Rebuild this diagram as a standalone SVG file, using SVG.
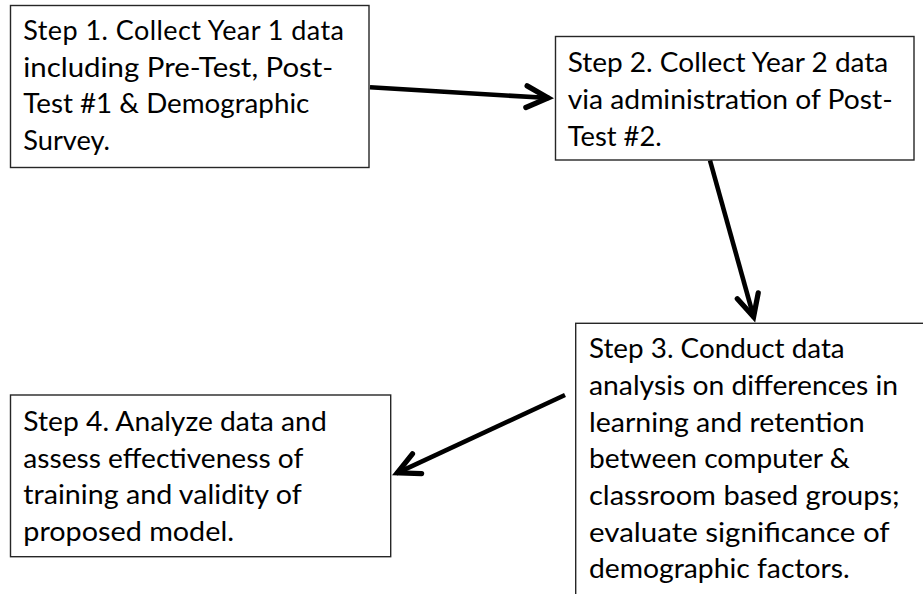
<svg xmlns="http://www.w3.org/2000/svg" width="923" height="594" viewBox="0 0 923 594">
<style>
.box{fill:#fff;stroke:#262626;stroke-width:1.4}
.t{font-family:Lato,"Noto Sans","Liberation Sans",sans-serif;font-size:27px;fill:#000}
.conn{stroke:#000;stroke-width:4.6;fill:none;stroke-linecap:butt}
</style>
<defs>
<marker id="arr" markerUnits="userSpaceOnUse" orient="auto" refX="0" refY="0" markerWidth="40" markerHeight="40" viewBox="-25 -15 35 30" overflow="visible">
<path d="M -20,-9.5 L -1,0 L -20,9.5" fill="none" stroke="#000" stroke-width="4.6" stroke-linejoin="miter" stroke-linecap="round"/>
</marker>
</defs>
<rect width="923" height="594" fill="#fff"/>
<g id="step1">
<rect class="box" x="10.5" y="5.5" width="358.5" height="162"/>
<text class="t" lengthAdjust="spacingAndGlyphs">
<tspan x="23.3" y="40" textLength="320.7">Step 1. Collect Year 1 data</tspan>
</text>
<text class="t" x="23.3" y="76.7" textLength="310" lengthAdjust="spacingAndGlyphs">including Pre-Test, Post-</text>
<text class="t" x="23.3" y="113.3" textLength="286" lengthAdjust="spacingAndGlyphs">Test #1 &amp; Demographic</text>
<text class="t" x="23.3" y="150" textLength="86.7" lengthAdjust="spacingAndGlyphs">Survey.</text>
</g>
<g id="step2">
<rect class="box" x="555.5" y="36.5" width="358.5" height="123.5"/>
<text class="t" x="567.7" y="72.3" textLength="320.6" lengthAdjust="spacingAndGlyphs">Step 2. Collect Year 2 data</text>
<text class="t" x="567.7" y="109" textLength="325" lengthAdjust="spacingAndGlyphs">via administration of Post-</text>
<text class="t" x="567.7" y="145.7" textLength="94" lengthAdjust="spacingAndGlyphs">Test #2.</text>
</g>
<g id="step3">
<rect class="box" x="575.7" y="323.3" width="400" height="300"/>
<text class="t" x="589" y="358.3" textLength="255.7" lengthAdjust="spacingAndGlyphs">Step 3. Conduct data</text>
<text class="t" x="589" y="395" textLength="309" lengthAdjust="spacingAndGlyphs">analysis on differences in</text>
<text class="t" x="589" y="431.7" textLength="275.7" lengthAdjust="spacingAndGlyphs">learning and retention</text>
<text class="t" x="589" y="468.3" textLength="260.7" lengthAdjust="spacingAndGlyphs">between computer &amp;</text>
<text class="t" x="589" y="505" textLength="310.7" lengthAdjust="spacingAndGlyphs">classroom based groups;</text>
<text class="t" x="589" y="541.7" textLength="300.7" lengthAdjust="spacingAndGlyphs">evaluate significance of</text>
<text class="t" x="589" y="578.3" textLength="260.7" lengthAdjust="spacingAndGlyphs">demographic factors.</text>
</g>
<g id="step4">
<rect class="box" x="10.5" y="395" width="380.2" height="161.7"/>
<text class="t" x="23.3" y="431" textLength="303.4" lengthAdjust="spacingAndGlyphs">Step 4. Analyze data and</text>
<text class="t" x="23.3" y="467.7" textLength="280" lengthAdjust="spacingAndGlyphs">assess effectiveness of</text>
<text class="t" x="23.3" y="504.3" textLength="278.4" lengthAdjust="spacingAndGlyphs">training and validity of</text>
<text class="t" x="23.3" y="541" textLength="210.7" lengthAdjust="spacingAndGlyphs">proposed model.</text>
</g>
<g id="connectors">
<line class="conn" x1="370" y1="87.3" x2="549.3" y2="98.06" marker-end="url(#arr)"/>
<line class="conn" x1="710" y1="160.5" x2="753.9" y2="317.85" marker-end="url(#arr)"/>
<line class="conn" x1="565" y1="395" x2="396.3" y2="473.3" marker-end="url(#arr)"/>
</g>
</svg>
